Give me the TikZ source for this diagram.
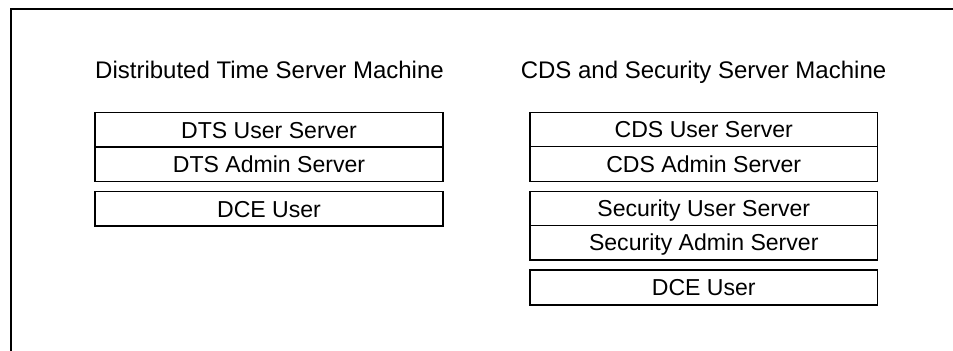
\documentclass[tikz,border=0pt]{standalone}
\usepackage{fontspec}
\setmainfont{Liberation Sans}
\begin{document}
\begin{tikzpicture}[x=0.75pt,y=-0.75pt,
  rowbox/.style={draw, line width=1.1pt, anchor=north west, outer sep=0pt, inner sep=0pt,
    font=\fontsize{17.3pt}{20pt}\selectfont, text height=12.4pt, text depth=0pt},
  lw/.style={rowbox, minimum width=348*0.75pt},
  rw/.style={rowbox, minimum width=347.5*0.75pt},
  title/.style={anchor=base, inner sep=0pt, font=\fontsize{18pt}{22pt}\selectfont},
  frame/.style={line width=1.5pt, line join=miter}]
\useasboundingbox (0,0) rectangle (953,350);
% frame
\coordinate (fbl) at (11,351);
\coordinate (ftl) at (11,9);
\coordinate (ftr) at (954,9);
\draw[frame] (fbl) -- (ftl) -- (ftr);
% titles
\node[title] (t1) at (269.5,78) {Distributed Time Server Machine};
\node[title] (t2) at (703.5,78) {CDS and Security Server Machine};
% left stack
\node[lw, minimum height=34.5*0.75pt] (l1) at (95,112.7) {DTS User Server};
\node[lw, minimum height=34.5*0.75pt] (l2) at (95,147.2) {DTS Admin Server};
\node[lw, minimum height=34.3*0.75pt] (l3) at (95,191.7) {DCE User};
% right stack
\node[rw, minimum height=34*0.75pt] (r1) at (530,112.7) {CDS User Server};
\node[rw, minimum height=35*0.75pt] (r2) at (530,146.7) {CDS Admin Server};
\node[rw, minimum height=33.6*0.75pt] (r3) at (530,191.7) {Security User Server};
\node[rw, minimum height=34.7*0.75pt] (r4) at (530,225.3) {Security Admin Server};
\node[rw, minimum height=35*0.75pt] (r5) at (530,270) {DCE User};
\end{tikzpicture}
\end{document}
